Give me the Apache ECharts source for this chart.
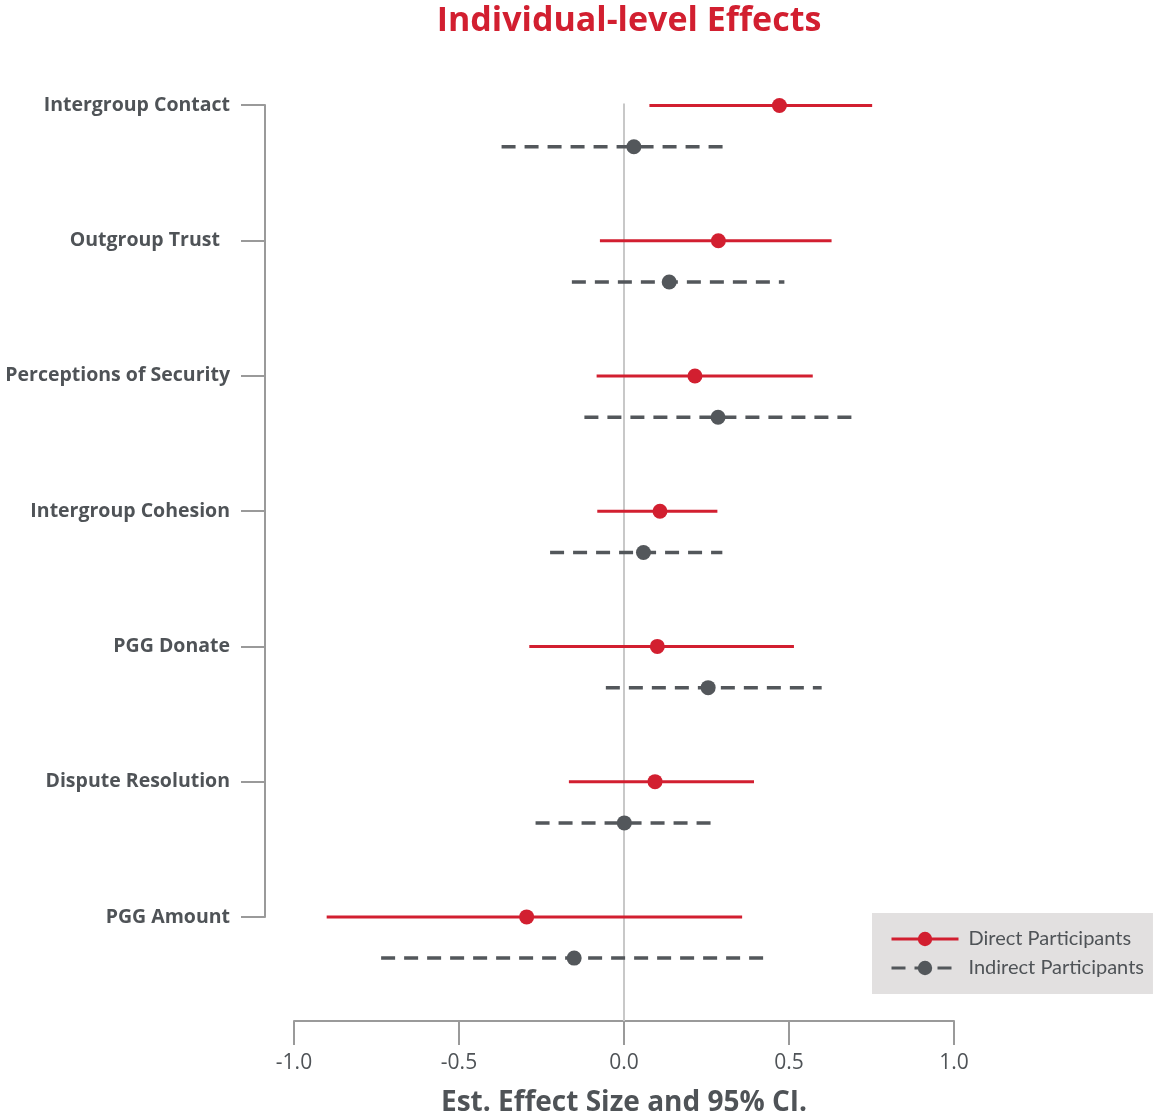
<!DOCTYPE html>
<html>
<head>
<meta charset="utf-8">
<script src="https://cdn.jsdelivr.net/npm/echarts@6/dist/echarts.min.js"></script>
<style>
html,body{margin:0;padding:0;background:#fff;}
#chart{width:1155px;height:1118px;}
</style>
</head>
<body>
<div id="chart"></div>
<script>
const categories = ['Intergroup Contact','Outgroup Trust\u00a0\u00a0','Perceptions of Security','Intergroup Cohesion','PGG Donate','Dispute Resolution','PGG Amount'];
const directEst  = [0.471, 0.286, 0.215, 0.109, 0.101, 0.094, -0.295];
const directLo   = [0.077, -0.073, -0.083, -0.081, -0.287, -0.167, -0.901];
const directHi   = [0.752, 0.629, 0.572, 0.283, 0.515, 0.394, 0.358];
const indirectEst = [0.030, 0.137, 0.285, 0.059, 0.255, 0.001, -0.151];
const indirectLo  = [-0.371, -0.158, -0.120, -0.224, -0.055, -0.268, -0.736];
const indirectHi  = [0.314, 0.486, 0.690, 0.298, 0.599, 0.278, 0.422];
const xTicks = [-1.0, -0.5, 0.0, 0.5, 1.0];

const RED = '#d21f30';
const GRAY = '#53575b';
const AXIS = '#9a9a9a';
const TXT = '#4f5357';
const FONT = '"Open Sans"';
const FONT2 = 'Lato';
const OFFSET = 0.305;

function buildData(est, lo, hi, off){
  const d = [];
  est.forEach((e, i) => {
    const y = i + off;
    d.push({value:[lo[i], y], symbol:'none'});
    d.push({value:[e, y], symbol:'circle'});
    d.push({value:[hi[i], y], symbol:'none'});
    d.push('-');
  });
  return d;
}

const chart = echarts.init(document.getElementById('chart'));
chart.setOption({
  backgroundColor:'#ffffff',
  animation:false,
  title:{
    text:'Individual-level Effects',
    left:624, top:-1, textAlign:'center',
    textStyle:{color:RED, fontFamily:FONT, fontWeight:'bold', fontSize:34}
  },
  legend:{
    orient:'vertical',
    left:872, top:913,
    backgroundColor:'#e2e0e0',
    padding:[16,9,16,18],
    itemGap:9,
    itemWidth:67, itemHeight:18,
    lineStyle:{width:3},
    textStyle:{color:TXT, fontFamily:FONT2, fontSize:20, padding:[0,0,0,5]},
    data:['Direct Participants','Indirect Participants']
  },
  grid:[
    {left:294, right:201, top:103.5, bottom:97, containLabel:false, outerBoundsMode:'none'},
    {left:265, width:10, top:105, bottom:201, containLabel:false, outerBoundsMode:'none'}
  ],
  xAxis:[
    {
      gridIndex:0, type:'value', min:-1, max:1, interval:0.5, position:'bottom',
      axisLine:{show:true, onZero:false, lineStyle:{color:AXIS, width:2}},
      axisTick:{show:true, length:24, lineStyle:{color:AXIS, width:2}},
      axisLabel:{color:TXT, fontFamily:FONT, fontSize:21, margin:32,
        formatter:v => { const t = xTicks.find(x => Math.abs(x - v) < 1e-9); return t === undefined ? '' : t.toFixed(1); }},
      splitLine:{show:false},
      name:'Est. Effect Size and 95% CI.',
      nameLocation:'middle', nameGap:68,
      nameTextStyle:{color:TXT, fontFamily:FONT, fontWeight:'bold', fontSize:28}
    },
    {gridIndex:1, type:'value', show:false}
  ],
  yAxis:[
    {gridIndex:0, type:'value', min:-0.015, max:6.77, inverse:true, show:false},
    {
      gridIndex:1, type:'category', data:categories, inverse:true, boundaryGap:false,
      axisLine:{show:true, lineStyle:{color:AXIS, width:2}},
      axisTick:{show:true, length:24, alignWithLabel:true, lineStyle:{color:AXIS, width:2}},
      axisLabel:{color:TXT, fontFamily:FONT, fontWeight:'bold', fontSize:19.5, margin:35, interval:0}
    }
  ],
  series:[
    {
      name:'Direct Participants', type:'line', xAxisIndex:0, yAxisIndex:0,
      data:buildData(directEst, directLo, directHi, 0),
      symbol:'circle', symbolSize:15, showAllSymbol:true, z:3,
      lineStyle:{color:RED, width:3},
      itemStyle:{color:RED},
      markLine:{
        silent:true, symbol:'none', label:{show:false},
        lineStyle:{color:'#c8c8c8', width:2, type:'solid'},
        data:[{xAxis:0}], z:1
      }
    },
    {
      name:'Indirect Participants', type:'line', xAxisIndex:0, yAxisIndex:0,
      data:buildData(indirectEst, indirectLo, indirectHi, OFFSET),
      symbol:'circle', symbolSize:15, showAllSymbol:true, z:3,
      lineStyle:{color:GRAY, width:3.5, type:[14,9]},
      itemStyle:{color:GRAY}
    }
  ]
});
</script>
</body>
</html>
